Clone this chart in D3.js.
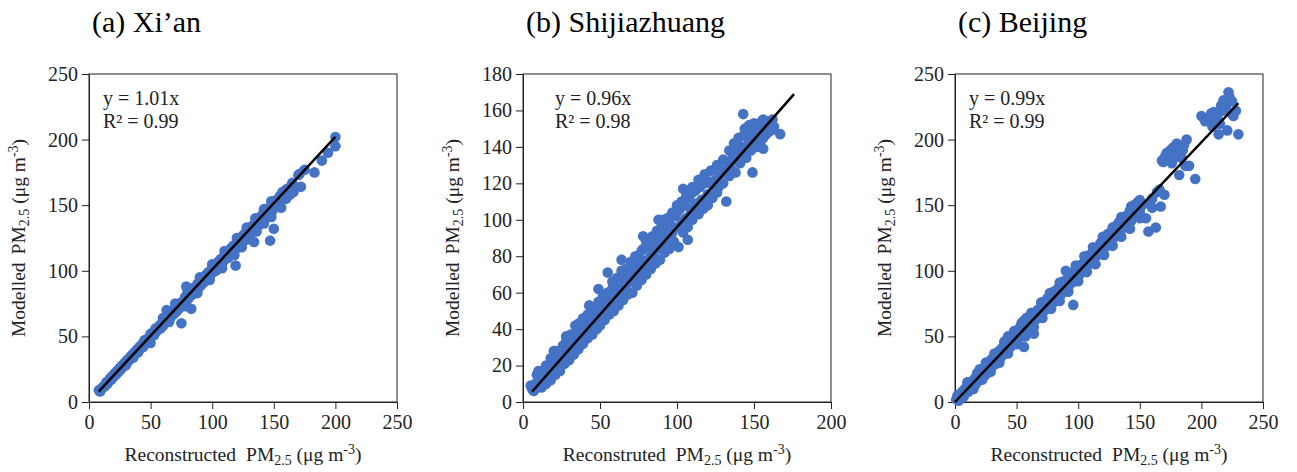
<!DOCTYPE html>
<html>
<head>
<meta charset="utf-8">
<script src="https://cdn.jsdelivr.net/npm/d3@7"></script>
<style>
  body { margin: 0; background: #fff; }
  svg text { font-family: "Liberation Serif", "Times New Roman", serif; }
</style>
</head>
<body>
<script>
// chart data
var titles = ["(a) Xi\u2019an", "(b) Shijiazhuang", "(c) Beijing"];
var xWords = ["Reconstructed", "Reconstruted", "Reconstructed"];
var slopes = [1.01, 0.96, 0.99];
var r2 = ["0.99", "0.98", "0.99"];
var fitRange = [[8, 200], [6, 176], [0, 230]];
var xMax = [250, 200, 250];
var yMax = [250, 180, 250];
var xTicks = [[0, 50, 100, 150, 200, 250], [0, 50, 100, 150, 200], [0, 50, 100, 150, 200, 250]];
var yTicks = [[0, 50, 100, 150, 200, 250], [0, 20, 40, 60, 80, 100, 120, 140, 160, 180], [0, 50, 100, 150, 200, 250]];

var xian = [[8,9],[9,8],[10,10],[11,11],[12,12],[13,12],[14,15],[15,14],[16,16],[17,18],[18,17],[19,20],[20,19],[21,22],[22,21],[23,24],[24,23],[25,26],[26,25],[27,28],[28,27],[29,30],[30,28],[31,32],[32,31],[33,34],[34,33],[35,36],[36,34],[37,38],[38,37],[39,40],[40,38],[41,42],[42,41],[43,44],[44,42],[45,47],[46,45],[47,48],[48,47],[50,52],[50,45],[52,53],[53,51],[54,56],[55,54],[57,58],[58,56],[59,60],[60,58],[62,63],[63,61],[63,70],[65,66],[66,64],[68,69],[69,67],[70,72],[71,69],[72,74],[73,71],[75,60],[75,76],[76,74],[78,80],[79,77],[79,88],[80,82],[81,79],[83,71],[83,85],[84,82],[85,87],[86,84],[88,90],[89,87],[90,92],[91,89],[92,94],[93,91],[95,97],[96,94],[97,99],[98,96],[100,102],[101,99],[102,104],[103,100],[105,107],[106,104],[107,109],[108,105],[110,112],[111,109],[112,114],[113,110],[115,117],[116,113],[117,119],[118,115],[119,104],[120,122],[121,118],[122,124],[123,120],[125,127],[126,123],[127,129],[128,125],[130,132],[131,128],[132,134],[133,130],[134,122],[135,137],[136,133],[137,139],[138,135],[140,142],[141,138],[142,144],[143,140],[145,147],[146,143],[147,123],[148,150],[149,146],[150,132],[150,152],[152,154],[153,150],[155,157],[156,148],[157,160],[158,155],[160,162],[162,163],[163,158],[165,167],[167,164],[170,173],[171,174],[172,164],[175,177],[183,175],[189,184],[194,190],[200,195],[200,202],
  [60,64],[70,75],[80,85],[90,95],[100,105],[110,115],[120,125],[128,133],[135,140],[142,147],[148,153],
  [65,61],[78,73],[88,83],[98,93],[108,102],[118,112],[124,118],[130,124],[136,130],[142,136],[148,141],[154,149],[160,155],[166,160]];

var shijiazhuang = [[5,9],[6,7],[7,6],[8,10],[9,8],[10,17],[10,9],[11,12],[12,10],[13,14],[14,12],[15,16],[16,13],[17,19],[18,15],[19,21],[20,17],[21,28],[21,20],[22,18],[23,25],[24,21],[25,27],[26,22],[27,30],[28,24],[28,33],[29,27],[30,31],[30,25],[31,29],[32,34],[33,28],[33,37],[34,32],[35,36],[35,30],[36,40],[37,33],[38,42],[38,36],[39,34],[40,44],[40,38],[41,36],[42,45],[42,40],[43,39],[44,47],[44,42],[45,40],[46,50],[46,44],[47,42],[48,52],[48,46],[49,62],[50,48],[50,54],[51,46],[52,55],[53,50],[54,57],[55,52],[55,71],[56,60],[57,54],[58,62],[59,56],[60,63],[61,58],[62,66],[63,60],[64,78],[64,68],[65,62],[66,70],[67,64],[68,72],[69,66],[70,74],[71,68],[72,76],[73,70],[74,80],[75,72],[76,78],[77,74],[78,91],[78,84],[79,76],[80,85],[81,78],[82,86],[83,80],[84,88],[85,82],[86,89],[87,84],[88,100],[89,90],[90,86],[91,100],[92,94],[93,89],[94,98],[95,91],[96,97],[97,93],[98,102],[100,104],[101,96],[102,106],[103,99],[104,117],[105,108],[106,101],[107,89],[108,112],[109,104],[110,115],[111,107],[112,116],[113,109],[115,118],[116,111],[118,120],[120,114],[121,121],[123,119],[125,122],[127,118],[128,125],[130,127],[132,110],[133,130],[135,128],[136,134],[138,136],[140,132],[142,140],[143,158],[143,146],[145,137],[146,148],[148,145],[149,126],[150,153],[151,143],[153,149],[155,154],[156,139],[157,150],[158,154],[160,151],[162,155],[167,147],
  [9,15],[12,17],[15,20],[18,24],[20,28],[23,28],[26,31],[28,36],[31,37],[34,42],[36,43],[39,46],[42,48],[43,53],[46,52],[49,55],[52,58],[55,60],[58,66],[61,68],[64,72],[67,73],[70,77],[73,80],[77,83],[80,88],[84,91],[87,94],[90,96],[94,101],[97,104],[100,108],[103,110],[106,113],[110,118],[114,122],[118,125],[122,127],[126,130],[130,133],[134,138],[138,140],
  [12,8],[15,10],[18,12],[21,15],[24,17],[27,21],[30,23],[33,26],[36,29],[39,32],[42,35],[45,37],[48,40],[50,42],[53,45],[56,48],[59,50],[62,53],[65,56],[68,59],[71,60],[74,64],[77,67],[80,70],[83,73],[86,76],[89,78],[92,82],[95,84],[98,88],[101,85],[104,93],[107,96],[110,100],[114,103],[117,106],[120,108],[123,112],[126,115],[130,120],[134,124],[138,126],[141,131],[145,134],[148,138],[152,140],[155,144],[158,147],[161,149],
  [144,150],[147,152],[150,149],[152,146],[154,152],[156,155],[159,148],[161,150],[146,141],[149,144],[140,145],[137,142],[142,135],[163,151],[156,145]];

var beijing = [[1,2],[2,5],[3,1],[4,6],[5,3],[6,8],[7,4],[8,10],[9,7],[10,12],[11,8],[12,14],[13,10],[14,16],[15,12],[16,18],[17,14],[18,20],[19,16],[20,25],[20,18],[22,22],[23,19],[24,26],[25,21],[26,28],[27,24],[28,31],[29,26],[30,33],[31,28],[32,34],[33,29],[34,37],[35,32],[36,39],[37,34],[38,41],[39,36],[40,42],[41,38],[42,44],[43,39],[44,49],[45,42],[46,50],[47,44],[48,52],[49,46],[50,53],[51,48],[52,56],[53,50],[54,60],[55,52],[56,42],[56,62],[57,55],[58,64],[59,56],[60,65],[61,58],[62,66],[63,60],[64,52],[65,67],[66,63],[67,70],[68,65],[70,73],[71,68],[72,76],[73,70],[75,79],[76,73],[78,81],[79,75],[80,84],[81,78],[83,86],[84,80],[85,88],[86,82],[88,92],[89,86],[90,100],[91,93],[92,88],[94,97],[95,91],[96,74],[97,99],[98,94],[100,103],[101,97],[103,105],[104,100],[106,108],[107,103],[109,112],[110,106],[112,115],[113,109],[115,117],[116,112],[118,121],[119,114],[120,124],[122,118],[124,128],[125,120],[127,130],[128,124],[130,134],[131,127],[133,137],[134,130],[136,140],[137,133],[139,142],[140,135],[142,146],[143,138],[145,150],[147,143],[148,152],[150,145],[152,150],[155,140],[157,130],[158,152],[160,155],[163,133],[164,160],[166,162],[167,149],[168,184],[170,186],[172,190],[174,188],[175,192],[177,194],[178,186],[180,197],[182,173],[185,192],[188,200],[190,180],[195,170],[200,218],[205,215],[208,220],[212,218],[214,204],[216,226],[218,230],[220,226],[221,207],[222,236],[224,220],[226,218],[228,222],[230,204],
  [10,15],[18,22],[25,30],[32,37],[40,46],[43,50],[48,54],[55,61],[62,68],[70,76],[77,83],[85,91],[91,99],[98,104],[105,111],[112,118],[120,126],[128,133],[135,141],[143,149],[150,154],
  [15,10],[22,17],[29,23],[36,30],[43,37],[50,44],[57,50],[64,57],[71,64],[78,71],[85,77],[92,84],[100,92],[107,99],[114,105],[121,112],[128,119],[135,126],[142,132],[150,140],[160,148],[170,158],
  [169,183],[171,188],[173,186],[176,190],[179,193],[181,189],[183,195],[186,196],[184,186],[187,180],[176,182],
  [203,214],[207,217],[210,221],[213,216],[217,222],[219,228],[223,232],[225,229],[215,212],[209,210]];

var pointSets = [xian, shijiazhuang, beijing];

var W = 1297, H = 472;
var lefts = [89, 523, 955];
var plotW = 308, plotTop = 74, plotBottom = 402;

var svg = d3.select("body").append("svg")
    .attr("width", W)
    .attr("height", H);

pointSets.forEach(function(pts, i) {
  var x0 = lefts[i];
  var g = svg.append("g");

  var x = d3.scaleLinear().domain([0, xMax[i]]).range([x0, x0 + plotW]);
  var y = d3.scaleLinear().domain([0, yMax[i]]).range([plotBottom, plotTop]);

  // frame
  g.append("rect")
      .attr("x", x0).attr("y", plotTop)
      .attr("width", plotW).attr("height", plotBottom - plotTop)
      .attr("fill", "none")
      .attr("stroke", "#222")
      .attr("stroke-width", 1);

  var ax = g.append("g")
      .attr("transform", "translate(0," + plotBottom + ")")
      .call(d3.axisBottom(x).tickValues(xTicks[i]).tickSize(7).tickPadding(6).tickSizeOuter(0));
  var ay = g.append("g")
      .attr("transform", "translate(" + x0 + ",0)")
      .call(d3.axisLeft(y).tickValues(yTicks[i]).tickSize(7).tickPadding(4).tickSizeOuter(0));
  [ax, ay].forEach(function(a) {
    a.select(".domain").attr("stroke", "#222");
    a.selectAll(".tick line").attr("stroke", "#222");
    a.selectAll(".tick text")
        .attr("font-family", "Liberation Serif")
        .attr("font-size", 20)
        .attr("fill", "#222");
  });

  // points
  g.append("g").selectAll("circle")
    .data(pts)
    .enter().append("circle")
      .attr("cx", function(d) { return x(d[0]); })
      .attr("cy", function(d) { return y(d[1]); })
      .attr("r", 5.3)
      .attr("fill", "#4472C4");

  // trend line
  g.append("line")
      .attr("x1", x(fitRange[i][0])).attr("y1", y(fitRange[i][0] * slopes[i]))
      .attr("x2", x(fitRange[i][1])).attr("y2", y(fitRange[i][1] * slopes[i]))
      .attr("stroke", "#000")
      .attr("stroke-width", 2.5);

  // equation
  var ex = x0 + (i === 1 ? 32 : 14);
  g.append("text").attr("x", ex).attr("y", 105)
      .attr("font-size", 20).attr("fill", "#222")
      .text("y = " + slopes[i].toFixed(2) + "x");
  g.append("text").attr("x", ex).attr("y", 128)
      .attr("font-size", 20).attr("fill", "#222")
      .text("R\u00b2 = " + r2[i]);

  // title
  g.append("text").attr("x", x0 + 3).attr("y", 32)
      .attr("font-size", 30).attr("fill", "#000")
      .text(titles[i]);

  // x label
  var xl = g.append("text")
      .attr("x", x0 + plotW / 2).attr("y", 461)
      .attr("text-anchor", "middle")
      .attr("font-size", 19.5).attr("fill", "#222");
  xl.append("tspan").text(xWords[i]);
  xl.append("tspan").attr("dx", 10).text("PM");
  xl.append("tspan").attr("dy", 4).attr("font-size", 14).text("2.5");
  xl.append("tspan").attr("dy", -4).text(" (\u03bcg m");
  xl.append("tspan").attr("dy", -7).attr("font-size", 14).text("-3");
  xl.append("tspan").attr("dy", 7).text(")");

  // y label
  var yl = g.append("text")
      .attr("transform", "translate(" + (x0 - 64) + "," + ((plotTop + plotBottom) / 2) + ") rotate(-90)")
      .attr("text-anchor", "middle")
      .attr("font-size", 19.5).attr("fill", "#222");
  yl.append("tspan").text("Modelled");
  yl.append("tspan").attr("dx", 8).text("PM");
  yl.append("tspan").attr("dy", 4).attr("font-size", 14).text("2.5");
  yl.append("tspan").attr("dy", -4).text(" (\u03bcg m");
  yl.append("tspan").attr("dy", -7).attr("font-size", 14).text("-3");
  yl.append("tspan").attr("dy", 7).text(")");
});
</script>
</body>
</html>
